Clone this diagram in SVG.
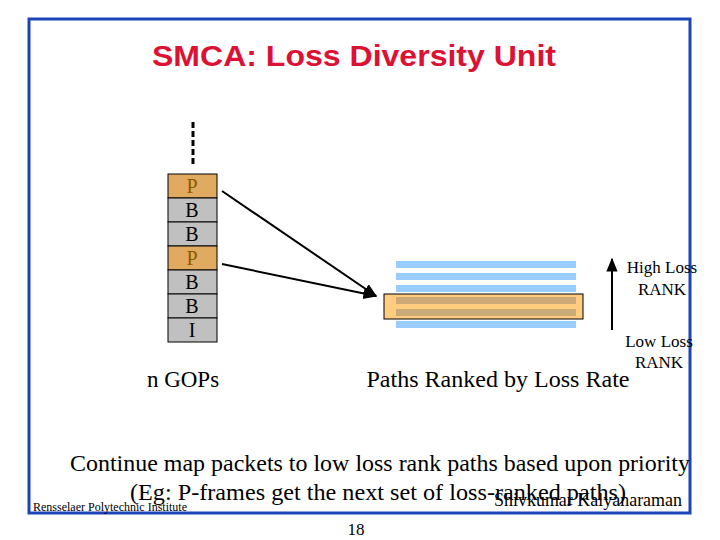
<svg xmlns="http://www.w3.org/2000/svg" width="720" height="540" viewBox="0 0 720 540">
<defs>
<style>
.t{font-family:"Liberation Serif",serif;fill:#000}
.cell{stroke:#000;stroke-width:1}
.g{fill:#c0c0c0}.o{fill:#e0aa60}
.blue{fill:#99ccff}.brn{fill:#ccaa77}
</style>
<marker id="ah" viewBox="0 0 10 10" refX="9" refY="5" markerWidth="7" markerHeight="7" orient="auto"><path d="M0,1L10,5L0,9z" fill="#000"/></marker>
</defs>
<rect width="720" height="540" fill="#fff"/>
<rect x="29" y="19" width="661" height="494" fill="none" stroke="#1a44b8" stroke-width="3"/>
<text x="354" y="66" text-anchor="middle" font-family="Liberation Sans,sans-serif" font-size="29" font-weight="bold" fill="#dd1133" textLength="404" lengthAdjust="spacingAndGlyphs">SMCA: Loss Diversity Unit</text>
<g id="stack">
<line x1="193" y1="122" x2="193" y2="166" stroke="#000" stroke-width="3" stroke-dasharray="6,3"/>
<rect class="cell o" x="168" y="174" width="49" height="24"/>
<rect class="cell g" x="168" y="198" width="49" height="24"/>
<rect class="cell g" x="168" y="222" width="49" height="24"/>
<rect class="cell o" x="168" y="246" width="49" height="24"/>
<rect class="cell g" x="168" y="270" width="49" height="24"/>
<rect class="cell g" x="168" y="294" width="49" height="24"/>
<rect class="cell g" x="168" y="318" width="49" height="24"/>
<g class="t" font-size="20" text-anchor="middle">
<text x="192" y="193" style="fill:#8a5a00">P</text>
<text x="192" y="217">B</text><text x="192" y="241">B</text>
<text x="192" y="265" style="fill:#8a5a00">P</text>
<text x="192" y="289">B</text><text x="192" y="313">B</text><text x="192" y="337">I</text>
</g>
<text class="t" x="183" y="387" font-size="23" text-anchor="middle">n GOPs</text>
</g>
<g id="paths">
<rect class="blue" x="396" y="261" width="180" height="7"/>
<rect class="blue" x="396" y="273" width="180" height="7"/>
<rect class="blue" x="396" y="285" width="180" height="7"/>
<rect x="384" y="294" width="199" height="25" fill="#ffcc80" stroke="#000"/>
<rect class="brn" x="396" y="297" width="180" height="7"/>
<rect class="brn" x="396" y="309" width="180" height="7"/>
<rect class="blue" x="396" y="321" width="180" height="7"/>
<text class="t" x="498" y="387" font-size="23" text-anchor="middle" textLength="263" lengthAdjust="spacingAndGlyphs">Paths Ranked by Loss Rate</text>
</g>
<g id="rank" class="t" font-size="17" text-anchor="middle">
<text x="662" y="273">High Loss</text><text x="662" y="295">RANK</text>
<text x="659" y="347">Low Loss</text><text x="659" y="368">RANK</text>
</g>
<g id="connectors" stroke="#000" stroke-width="2" fill="none">
<line x1="222" y1="191" x2="376" y2="296" marker-end="url(#ah)"/>
<line x1="222" y1="264" x2="376" y2="296" marker-end="url(#ah)"/>
<line x1="612" y1="330" x2="612" y2="259" marker-end="url(#ah)"/>
</g>
<text class="t" x="380" y="471" font-size="23" text-anchor="middle" textLength="620" lengthAdjust="spacingAndGlyphs">Continue map packets to low loss rank paths based upon priority</text>
<text class="t" x="378" y="500" font-size="23" text-anchor="middle" textLength="496" lengthAdjust="spacingAndGlyphs">(Eg: P-frames get the next set of loss-ranked paths)</text>
<text class="t" x="33" y="511" font-size="12" textLength="154" lengthAdjust="spacingAndGlyphs">Rensselaer Polytechnic Institute</text>
<text class="t" x="682" y="506" font-size="18" text-anchor="end" textLength="188" lengthAdjust="spacingAndGlyphs">Shivkumar Kalyanaraman</text>
<text class="t" x="356" y="535" font-size="17" text-anchor="middle">18</text>
</svg>
